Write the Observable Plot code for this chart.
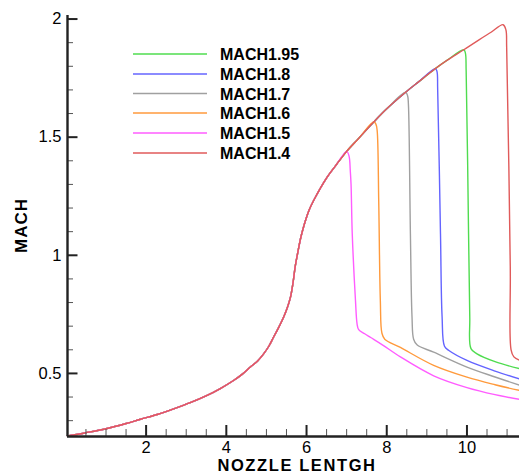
<!DOCTYPE html>
<html>
<head>
<meta charset="utf-8">
<script src="https://cdn.jsdelivr.net/npm/d3@7"></script>
<script src="https://cdn.jsdelivr.net/npm/@observablehq/plot@0.6"></script>
<style>
  html, body { margin: 0; padding: 0; background: #fff; }
  #chart { position: relative; width: 519px; height: 472px; }
</style>
</head>
<body>
<div id="chart"></div>
<script>
// ---- data ----
const seriesNames = ["MACH1.95", "MACH1.8", "MACH1.7", "MACH1.6", "MACH1.5", "MACH1.4"];
const seriesColors = ["#4fdc4f", "#6464ff", "#a0a0a0", "#ff9a3c", "#ff5cff", "#e05a5a"];

// shared (pre-shock) curve
const commonX = [0.04, 0.5, 1.0, 1.5, 1.86, 2.3, 2.69, 3.1, 3.52, 3.85, 4.18, 4.4, 4.6, 4.78, 4.93, 5.06, 5.18, 5.3, 5.43, 5.52, 5.6, 5.66, 5.72, 5.78, 5.85, 5.91, 5.97, 6.06, 6.18, 6.51, 6.75, 7.0, 7.3, 7.68, 8.0, 8.47, 8.8, 9.21, 9.5, 9.92, 10.3, 10.6, 10.9];
const commonM = [0.235, 0.249, 0.266, 0.288, 0.306, 0.327, 0.35, 0.376, 0.407, 0.436, 0.47, 0.497, 0.527, 0.553, 0.583, 0.615, 0.654, 0.693, 0.739, 0.778, 0.823, 0.88, 0.955, 1.01, 1.07, 1.11, 1.145, 1.19, 1.233, 1.33, 1.385, 1.44, 1.495, 1.565, 1.62, 1.69, 1.735, 1.79, 1.825, 1.87, 1.912, 1.944, 1.976];

// shock location (peak x) per series
const peakX = [9.92, 9.21, 8.47, 7.68, 7.0, 10.9];

// post-shock points per series
const shockX_195 = [9.96, 9.98, 10.04, 10.07, 10.1, 10.25, 10.7, 11.31];
const shockM_195 = [1.857, 1.78, 1.09, 0.74, 0.605, 0.583, 0.55, 0.52];
const shockX_18 = [9.25, 9.27, 9.34, 9.38, 9.44, 9.55, 10.0, 10.7, 11.31];
const shockM_18 = [1.78, 1.7, 1.09, 0.74, 0.615, 0.597, 0.555, 0.51, 0.477];
const shockX_17 = [8.52, 8.54, 8.59, 8.63, 8.67, 8.76, 9.17, 10.0, 10.7, 11.31];
const shockM_17 = [1.675, 1.64, 1.09, 0.74, 0.645, 0.62, 0.59, 0.527, 0.485, 0.45];
const shockX_16 = [7.73, 7.76, 7.8, 7.84, 7.88, 7.95, 8.34, 9.17, 10.0, 10.7, 11.31];
const shockM_16 = [1.555, 1.53, 1.23, 0.81, 0.67, 0.645, 0.61, 0.534, 0.484, 0.452, 0.428];
const shockX_15 = [7.06, 7.09, 7.11, 7.14, 7.22, 7.26, 7.3, 7.45, 7.6, 7.9, 8.34, 9.17, 10.0, 10.7, 11.31];
const shockM_15 = [1.42, 1.36, 1.30, 1.09, 0.81, 0.71, 0.685, 0.668, 0.652, 0.62, 0.57, 0.49, 0.44, 0.41, 0.39];
const shockX_14 = [10.97, 10.99, 11.08, 11.1, 11.17, 11.31];
const shockM_14 = [1.955, 1.88, 0.95, 0.6, 0.57, 0.556];

const shockXs = [shockX_195, shockX_18, shockX_17, shockX_16, shockX_15, shockX_14];
const shockMs = [shockM_195, shockM_18, shockM_17, shockM_16, shockM_15, shockM_14];

// axes
const xDomain = [0.04, 11.31];
const yDomain = [0.233, 2.015];
const xMajor = [2, 4, 6, 8, 10];
const xMinor = [0.5, 1, 1.5, 2.5, 3, 3.5, 4.5, 5, 5.5, 6.5, 7, 7.5, 8.5, 9, 9.5, 10.5, 11];
const yMajor = [0.5, 1, 1.5, 2];
const yMinor = [0.3, 0.4, 0.6, 0.7, 0.8, 0.9, 1.1, 1.2, 1.3, 1.4, 1.6, 1.7, 1.8, 1.9];
const xTitle = "NOZZLE LENTGH";
const yTitle = "MACH";

// ---- build rows ----
const lines = seriesNames.map((name, i) => {
  const rows = [];
  commonX.forEach((x, j) => { if (x <= peakX[i] + 1e-9) rows.push({x, m: commonM[j], s: name}); });
  shockXs[i].forEach((x, j) => rows.push({x, m: shockMs[i][j], s: name}));
  return rows;
});

const W = 519, H = 472;
const mL = 67, mR = 0, mT = 15, mB = 36;
const pw = W - mL - mR, ph = H - mT - mB;

const plot = Plot.plot({
  width: W, height: H,
  marginLeft: mL, marginRight: mR, marginTop: mT, marginBottom: mB,
  style: { fontFamily: "'Liberation Sans', Arial, sans-serif", fontSize: "16.5px", color: "#000", background: "#fff" },
  x: { domain: xDomain },
  y: { domain: yDomain },
  color: { domain: seriesNames, range: seriesColors },
  marks: [
    ...lines.map(rows => Plot.line(rows, { x: "x", y: "m", stroke: "s", strokeWidth: 1.4, curve: "catmull-rom" })),
    Plot.tickY(yMinor, { y: d => d, insetRight: pw - 6, stroke: "#555", strokeWidth: 1 }),
    Plot.tickY(yMajor, { y: d => d, insetRight: pw - 10.5, stroke: "#222", strokeWidth: 2 }),
    Plot.tickX(xMinor, { x: d => d, insetTop: ph - 7, stroke: "#555", strokeWidth: 1 }),
    Plot.tickX(xMajor, { x: d => d, insetTop: ph - 11, stroke: "#222", strokeWidth: 2 }),
    Plot.ruleX([xDomain[0]], { stroke: "#222", strokeWidth: 2.4 }),
    Plot.ruleY([yDomain[0]], { stroke: "#222", strokeWidth: 2.4 }),
    Plot.axisX({ ticks: xMajor, tickSize: 0, tickPadding: 5, label: null, tickFormat: d => String(d) }),
    Plot.axisY({ ticks: yMajor, tickSize: 0, tickPadding: 6, label: null, tickFormat: d => String(d) })
  ]
});

document.getElementById("chart").appendChild(plot);

// titles + legend
const svg = d3.select(plot);
svg.append("text")
  .attr("x", mL + pw / 2 + 4).attr("y", 470.5)
  .attr("text-anchor", "middle")
  .style("font-family", "'Liberation Sans', Arial, sans-serif")
  .style("font-weight", "bold").style("font-size", "16.5px").style("letter-spacing", "1.6px")
  .attr("fill", "#000")
  .text(xTitle);
svg.append("text")
  .attr("transform", `translate(27,${mT + ph / 2}) rotate(-90)`)
  .attr("text-anchor", "middle")
  .style("font-family", "'Liberation Sans', Arial, sans-serif")
  .style("font-weight", "bold").style("font-size", "17px").style("letter-spacing", "1px")
  .attr("fill", "#000")
  .text(yTitle);

const legendY = [54, 74, 93.5, 113, 133, 153];
const lg = svg.append("g");
seriesNames.forEach((name, i) => {
  lg.append("line").attr("x1", 133).attr("x2", 207).attr("y1", legendY[i]).attr("y2", legendY[i])
    .attr("stroke", seriesColors[i]).attr("stroke-width", 1.4);
  lg.append("text").attr("x", 220).attr("y", legendY[i] + 6)
    .attr("text-anchor", "start")
    .style("font-family", "'Liberation Sans', Arial, sans-serif")
    .style("font-weight", "bold").style("font-size", "16px")
    .attr("fill", "#000").text(name);
});
</script>
</body>
</html>
